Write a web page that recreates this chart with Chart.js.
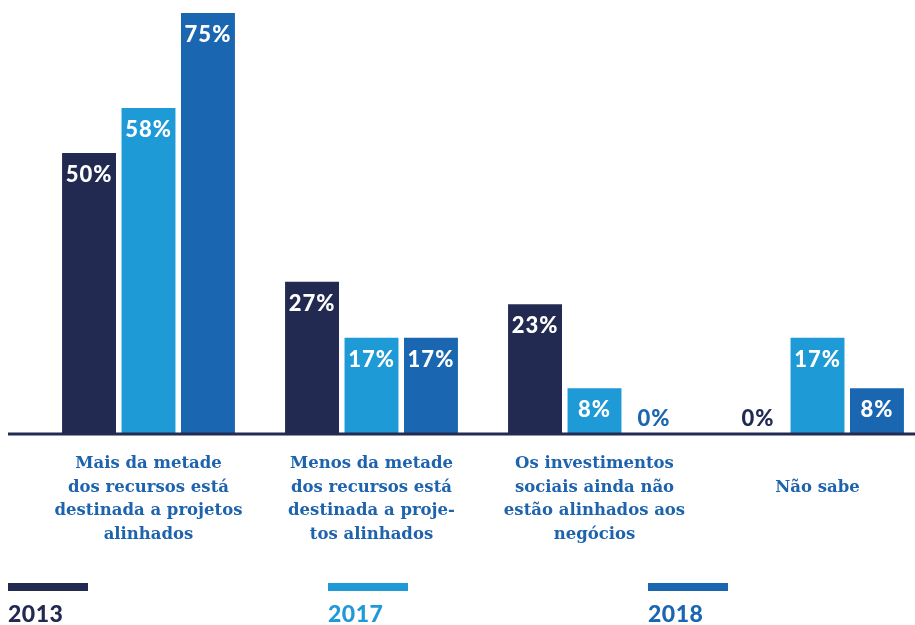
<!DOCTYPE html>
<html>
<head>
<meta charset="utf-8">
<script src="https://cdn.jsdelivr.net/npm/chart.js@4"></script>
<style>
    html, body { margin: 0; padding: 0; background: #fff; }
    #frame { position: relative; width: 915px; height: 625px; overflow: hidden; }
    #wrap { position: absolute; left: 0; top: 0; width: 940px; height: 625px; }
    #legend { position: absolute; left: 0; top: 583px; width: 915px; height: 42px; }
    .item { position: absolute; top: 0; }
    .swatch { width: 80px; height: 8px; }
    .item span { display: block; margin-top: 9px; font: 900 23px 'Lato', sans-serif; line-height: 26px; letter-spacing: 0.5px; }
</style>
</head>
<body>
<div id="frame">
    <div id="wrap"><canvas id="chart"></canvas></div>
    <div id="legend"></div>
</div>
<script>
// Data
const categories = [
    ['Mais da metade', 'dos recursos está', 'destinada a projetos', 'alinhados'],
    ['Menos da metade', 'dos recursos está', 'destinada a proje-', 'tos alinhados'],
    ['Os investimentos', 'sociais ainda não', 'estão alinhados aos', 'negócios'],
    ['', 'Não sabe']
];
const seriesNames = ['2013', '2017', '2018'];
const values2013 = [50, 27, 23, 0];
const values2017 = [58, 17, 8, 17];
const values2018 = [75, 17, 0, 8];

const colors = ['#222a52', '#1e9ad6', '#1b66b0'];
const legendX = [8, 328, 648];

// Value labels inside the bars (or above baseline when zero)
const valueLabels = {
    id: 'valueLabels',
    afterDatasetsDraw(chart) {
        const ctx = chart.ctx;
        const zeroY = chart.scales.y.getPixelForValue(0);
        ctx.save();
        ctx.font = "900 22px 'Lato', sans-serif";
        ctx.letterSpacing = '1px';
        ctx.textAlign = 'center';
        ctx.textBaseline = 'middle';
        chart.data.datasets.forEach((ds, i) => {
            chart.getDatasetMeta(i).data.forEach((bar, j) => {
                const v = ds.data[j];
                if (v > 0) {
                    ctx.fillStyle = '#ffffff';
                    ctx.fillText(v + '%', bar.x, bar.y + 22);
                } else {
                    ctx.fillStyle = ds.backgroundColor;
                    ctx.fillText(v + '%', bar.x, zeroY - 14);
                }
            });
        });
        // baseline
        ctx.strokeStyle = '#232b52';
        ctx.lineWidth = 3;
        ctx.beginPath();
        ctx.moveTo(8, zeroY + 1);
        ctx.lineTo(915, zeroY + 1);
        ctx.stroke();
        ctx.restore();
    }
};

const datasets = [values2013, values2017, values2018].map((data, i) => ({
    label: seriesNames[i],
    data: data,
    backgroundColor: colors[i],
    categoryPercentage: 0.8,
    barPercentage: 0.907
}));

new Chart(document.getElementById('chart'), {
    type: 'bar',
    data: { labels: categories, datasets: datasets },
    plugins: [valueLabels],
    options: {
        responsive: true,
        maintainAspectRatio: false,
        animation: false,
        layout: { padding: { left: 37, right: 11, top: 0, bottom: 0 } },
        plugins: {
            legend: { display: false },
            tooltip: { enabled: false }
        },
        scales: {
            x: {
                grid: { display: false, drawTicks: false },
                border: { display: false },
                ticks: {
                    padding: 19,
                    color: '#1e63ad',
                    font: { family: 'DejaVu Serif', weight: 'bold', size: 16.5, lineHeight: 1.424 },
                    maxRotation: 0,
                    autoSkip: false
                },
                afterFit: scale => { scale.height = 192; }
            },
            y: {
                display: false,
                min: 0,
                max: 77.3
            }
        }
    }
});

// Legend below the chart
const legend = document.getElementById('legend');
seriesNames.forEach((name, i) => {
    const item = document.createElement('div');
    item.className = 'item';
    item.style.left = legendX[i] + 'px';
    item.innerHTML = `<div class="swatch" style="background:${colors[i]}"></div><span style="color:${colors[i]}">${name}</span>`;
    legend.appendChild(item);
});
</script>
</body>
</html>
